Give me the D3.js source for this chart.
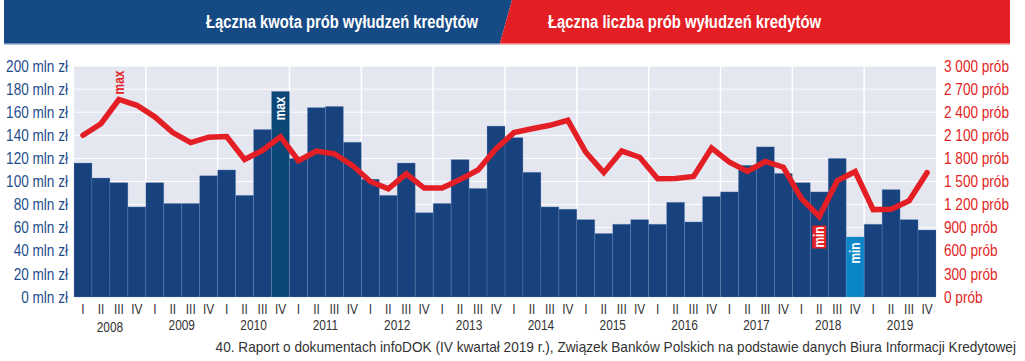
<!DOCTYPE html>
<html>
<head>
<meta charset="utf-8">
<script src="https://cdn.jsdelivr.net/npm/d3@7"></script>
<style>
  body { margin: 0; background: #fff; }
  svg { display: block; }
  text { font-family: "Liberation Sans", Arial, sans-serif; }
</style>
</head>
<body>
<div id="chart"></div>
<script>
// Dane: kwartały 2008-2019
var lata = ["2008", "2009", "2010", "2011", "2012", "2013", "2014", "2015", "2016", "2017", "2018", "2019"];
var kwartaly = ["I", "II", "III", "IV"];

// Łączna kwota prób wyłudzeń (mln zł)
var kwota = [116, 103, 99, 78, 99, 81, 81, 105,
             110, 88, 145, 178, 120, 164, 165, 134,
             102, 88, 116, 73, 81, 119, 94, 148,
             138, 108, 78, 76, 67, 55, 63, 67,
             63, 82, 65, 87, 91, 114, 130, 107,
             99, 91, 120, 52, 63, 93, 67, 58];

// Łączna liczba prób wyłudzeń
var liczba = [2100, 2250, 2565, 2490, 2340, 2135, 2005, 2075,
              2085, 1785, 1905, 2080, 1770, 1895, 1860, 1710,
              1500, 1405, 1600, 1415, 1415, 1525, 1650, 1925,
              2135, 2185, 2230, 2295, 1880, 1615, 1895, 1815,
              1535, 1540, 1565, 1935, 1750, 1630, 1760, 1685,
              1280, 1045, 1510, 1630, 1135, 1140, 1250, 1615];

var ticksLewa = [0, 20, 40, 60, 80, 100, 120, 140, 160, 180, 200];
var ticksPrawa = [0, 300, 600, 900, 1200, 1500, 1800, 2100, 2400, 2700, 3000];

// Kolory
var kolorSlupek = "#17427d";
var kolorMax = "#0b4877";
var kolorMin = "#0a86c8";
var kolorLinia = "#e31e24";
var kolorNiebieski = "#1f4e8c";

var width = 1025, height = 361;
var x0 = 74, x1 = 936, yTop = 66, yBottom = 297;
var scisk = 0.85; // czcionka zwężona

var svg = d3.select("#chart").append("svg")
  .attr("width", width)
  .attr("height", height);

// Nagłówek
svg.append("polygon")
  .attr("points", "4,0 512,0 500,43 4,43")
  .attr("fill", "#164a84");
svg.append("polygon")
  .attr("points", "512,0 1010,0 1010,43 500,43")
  .attr("fill", "#e31e24");
svg.append("rect").attr("x", 4).attr("y", 43).attr("width", 496).attr("height", 1.5).attr("fill", "#6f8fbb");
svg.append("rect").attr("x", 500).attr("y", 43).attr("width", 510).attr("height", 1.5).attr("fill", "#f07a7d");

svg.append("text")
  .attr("x", 206).attr("y", 28)
  .attr("fill", "#fff")
  .attr("font-weight", "bold")
  .attr("font-size", "18px")
  .attr("textLength", 272)
  .attr("lengthAdjust", "spacingAndGlyphs")
  .text("Łączna kwota prób wyłudzeń kredytów");
svg.append("text")
  .attr("x", 548).attr("y", 28)
  .attr("fill", "#fff")
  .attr("font-weight", "bold")
  .attr("font-size", "18px")
  .attr("textLength", 273)
  .attr("lengthAdjust", "spacingAndGlyphs")
  .text("Łączna liczba prób wyłudzeń kredytów");

// Skale
var etykiety = [];
lata.forEach(function(r) { kwartaly.forEach(function(k) { etykiety.push(r + "-" + k); }); });

var x = d3.scaleBand().domain(etykiety).range([x0, x1]).padding(0);
var yL = d3.scaleLinear().domain([0, 200]).range([yBottom, yTop]);
var yR = d3.scaleLinear().domain([0, 3000]).range([yBottom, yTop]);

// Tło wykresu
svg.append("rect")
  .attr("x", x0).attr("y", yTop)
  .attr("width", x1 - x0).attr("height", yBottom - yTop)
  .attr("fill", "#e4e6f0");

// Siatka pozioma
svg.selectAll("line.grid-h")
  .data(ticksLewa.slice(1))
  .enter().append("line")
  .attr("class", "grid-h")
  .attr("x1", x0).attr("x2", x1)
  .attr("y1", function(d) { return yL(d); })
  .attr("y2", function(d) { return yL(d); })
  .attr("stroke", "#fff").attr("stroke-width", 1);

// Siatka pionowa (granice lat)
svg.selectAll("line.grid-v")
  .data(lata.slice(1))
  .enter().append("line")
  .attr("class", "grid-v")
  .attr("x1", function(d) { return x(d + "-I"); })
  .attr("x2", function(d) { return x(d + "-I"); })
  .attr("y1", yTop).attr("y2", yBottom)
  .attr("stroke", "#fff").attr("stroke-width", 1.5);

// Słupki
var iMax = kwota.indexOf(d3.max(kwota));
var iMin = kwota.indexOf(d3.min(kwota));

svg.selectAll("rect.bar")
  .data(kwota)
  .enter().append("rect")
  .attr("class", "bar")
  .attr("x", function(d, i) { return x(etykiety[i]); })
  .attr("width", x.bandwidth())
  .attr("y", function(d) { return yL(d); })
  .attr("height", function(d) { return yBottom - yL(d); })
  .attr("fill", function(d, i) {
    if (i == iMax) { return kolorMax; }
    if (i == iMin) { return kolorMin; }
    return kolorSlupek;
  })
  .attr("stroke", "rgba(120,150,200,0.35)")
  .attr("stroke-width", 0.8);

// Linia
var linia = d3.line()
  .x(function(d, i) { return x(etykiety[i]) + x.bandwidth() / 2; })
  .y(function(d) { return yR(d); });

svg.append("path")
  .datum(liczba)
  .attr("d", linia)
  .attr("fill", "none")
  .attr("stroke", kolorLinia)
  .attr("stroke-width", 5.5)
  .attr("stroke-linejoin", "miter")
  .attr("stroke-linecap", "round");

// Etykiety max/min
var lMax = liczba.indexOf(d3.max(liczba));
var lMin = liczba.indexOf(d3.min(liczba));

function etykieta(cx, cy, tekst, kolor) {
  svg.append("text")
    .attr("transform", "translate(" + cx + "," + cy + ") rotate(-90) scale(" + scisk + ",1)")
    .attr("text-anchor", "middle")
    .attr("dy", "0.35em")
    .attr("fill", kolor)
    .attr("font-weight", "bold")
    .attr("font-size", "14px")
    .text(tekst);
}

var srodek = function(i) { return x(etykiety[i]) + x.bandwidth() / 2; };

etykieta(srodek(lMax), yR(liczba[lMax]) - 17, "max", kolorLinia);
etykieta(srodek(iMax), yL(kwota[iMax]) + 17, "max", "#fff");

// min na linii - biały tekst w czerwonej ramce
svg.append("rect")
  .attr("x", srodek(lMin) - 7).attr("y", yR(liczba[lMin]) + 9)
  .attr("width", 14).attr("height", 23)
  .attr("fill", kolorLinia);
etykieta(srodek(lMin), yR(liczba[lMin]) + 20.5, "min", "#fff");
etykieta(srodek(iMin), yL(kwota[iMin]) + 16, "min", "#fff");

// Oś lewa
svg.selectAll("text.lewa")
  .data(ticksLewa)
  .enter().append("text")
  .attr("class", "lewa")
  .attr("transform", function(d) { return "translate(68," + yL(d) + ") scale(" + scisk + ",1)"; })
  .attr("dy", "0.35em")
  .attr("text-anchor", "end")
  .attr("fill", kolorNiebieski)
  .attr("font-size", "16px")
  .text(function(d) { return d + " mln zł"; });

// Oś prawa
var formatTys = function(d) {
  return d3.format(",")(d).replace(/,/g, " ") + " prób";
};
svg.selectAll("text.prawa")
  .data(ticksPrawa)
  .enter().append("text")
  .attr("class", "prawa")
  .attr("transform", function(d) { return "translate(944," + yR(d) + ") scale(" + scisk + ",1)"; })
  .attr("dy", "0.35em")
  .attr("text-anchor", "start")
  .attr("fill", kolorLinia)
  .attr("font-size", "16px")
  .text(formatTys);

// Oś dolna - kwartały
svg.selectAll("text.kw")
  .data(etykiety)
  .enter().append("text")
  .attr("class", "kw")
  .attr("transform", function(d) { return "translate(" + (x(d) + x.bandwidth() / 2) + ",314) scale(" + scisk + ",1)"; })
  .attr("text-anchor", "middle")
  .attr("fill", "#333")
  .attr("font-size", "14px")
  .text(function(d) { return d.split("-")[1]; });

// Oś dolna - lata
svg.selectAll("text.rok")
  .data(lata)
  .enter().append("text")
  .attr("class", "rok")
  .attr("transform", function(d, i) {
    return "translate(" + (x(d + "-II") + x.bandwidth()) + "," + (i == 0 ? 332 : 330) + ") scale(" + scisk + ",1)";
  })
  .attr("text-anchor", "middle")
  .attr("fill", "#333")
  .attr("font-size", "14px")
  .text(function(d) { return d; });

// Źródło
svg.append("text")
  .attr("transform", "translate(1016,352) scale(0.975,1)")
  .attr("text-anchor", "end")
  .attr("fill", "#333")
  .attr("font-size", "14px")
  .text("40. Raport o dokumentach infoDOK (IV kwartał 2019 r.), Związek Banków Polskich na podstawie danych Biura Informacji Kredytowej");
</script>
</body>
</html>
